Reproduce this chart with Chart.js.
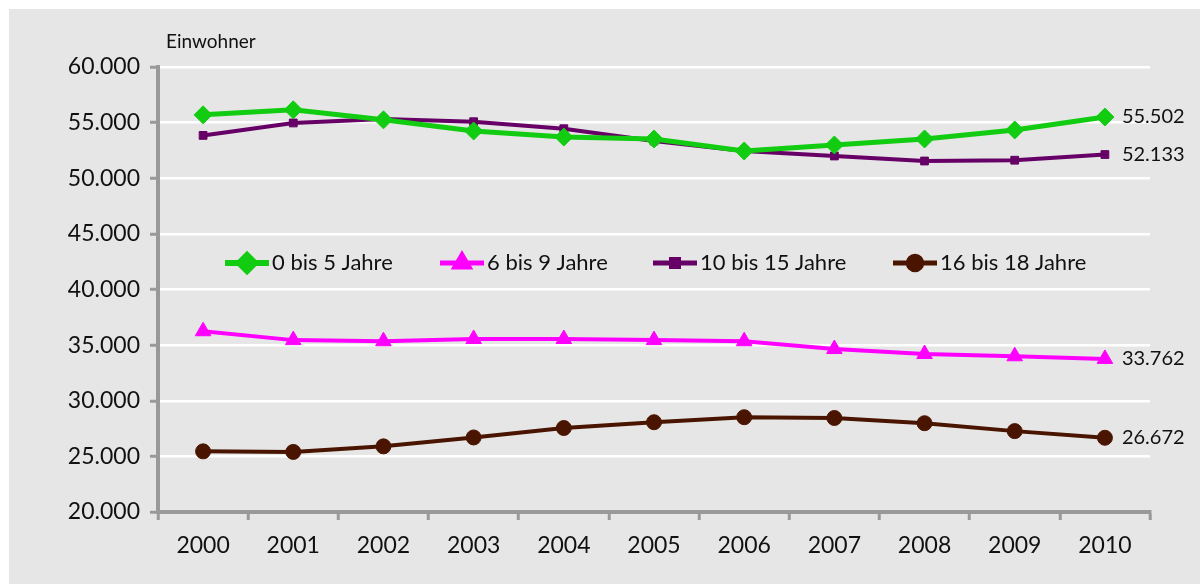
<!DOCTYPE html>
<html>
<head>
<meta charset="utf-8">
<script src="https://cdn.jsdelivr.net/npm/chart.js@4.4.0/dist/chart.umd.min.js"></script>
<style>
  body { margin: 0; background: #fff; }
  #frame { position: absolute; left: 9px; top: 9px; width: 1191px; height: 575px; background: #e6e6e6; }
  #frame canvas { position: absolute; left: 0; top: 0; }
</style>
</head>
<body>
<div id="frame"><canvas id="chart" width="1191" height="575"></canvas></div>
<script>
// Data
const years = ['2000', '2001', '2002', '2003', '2004', '2005', '2006', '2007', '2008', '2009', '2010'];
const age0to5 = [55700, 56150, 55250, 54250, 53700, 53530, 52450, 52990, 53530, 54340, 55502];
const age6to9 = [36250, 35450, 35350, 35550, 35550, 35450, 35350, 34650, 34200, 34000, 33762];
const age10to15 = [53850, 54970, 55330, 55080, 54450, 53350, 52450, 52000, 51550, 51620, 52133];
const age16to18 = [25450, 25400, 25900, 26700, 27550, 28070, 28520, 28450, 27980, 27270, 26672];
const seriesNames = ['0 bis 5 Jahre', '6 bis 9 Jahre', '10 bis 15 Jahre', '16 bis 18 Jahre'];
const yTicks = [20000, 25000, 30000, 35000, 40000, 45000, 50000, 55000, 60000];

const FONT = 'Lato, "Open Sans", sans-serif';

function fmt(v) {
    // German thousands separator
    const s = String(Math.round(v));
    return s.replace(/\B(?=(\d{3})+(?!\d))/g, '.');
}

const styles = [
    { color: '#11cc11', style: 'rectRot', radius: 9, width: 5 },
    { color: '#ff00ff', style: 'triangle', radius: 9, width: 4 },
    { color: '#660066', style: 'rect', radius: 5.5, width: 4 },
    { color: '#4a1500', style: 'circle', radius: 7.5, width: 4 }
];
const allData = [age0to5, age6to9, age10to15, age16to18];

// Legend drawn inside the plot area, plus end labels and axis title
const extras = {
    id: 'extras',
    afterDraw(chart) {
        const ctx = chart.ctx;
        ctx.save();
        // axis title
        ctx.fillStyle = '#111';
        ctx.font = '19px ' + FONT;
        ctx.textAlign = 'left';
        ctx.textBaseline = 'alphabetic';
        ctx.fillText('Einwohner', 157, 39);

        // end labels
        ctx.font = '20px ' + FONT;
        ctx.textBaseline = 'middle';
        chart.data.datasets.forEach((ds, i) => {
            const pts = chart.getDatasetMeta(i).data;
            const p = pts[pts.length - 1];
            ctx.fillText(fmt(ds.data[ds.data.length - 1]), p.x + 17, p.y);
        });

        // legend
        const legendX = [216, 431, 644, 884];
        const ly = 254;
        ctx.font = '22px ' + FONT;
        chart.data.datasets.forEach((ds, i) => {
            const st = styles[i];
            const x0 = legendX[i];
            ctx.strokeStyle = st.color;
            ctx.lineWidth = st.width + 1;
            ctx.beginPath();
            ctx.moveTo(x0, ly);
            ctx.lineTo(x0 + 44, ly);
            ctx.stroke();
            ctx.fillStyle = st.color;
            Chart.helpers.drawPoint(ctx, { pointStyle: st.style, radius: st.radius * 0.9, borderWidth: 1 }, x0 + 22, ly);
            ctx.fillStyle = '#111';
            ctx.fillText(seriesNames[i], x0 + 47, ly);
        });
        ctx.restore();
    }
};

new Chart(document.getElementById('chart'), {
    type: 'line',
    data: {
        labels: years,
        datasets: allData.map((d, i) => ({
            label: seriesNames[i],
            data: d,
            borderColor: styles[i].color,
            backgroundColor: styles[i].color,
            borderWidth: styles[i].width,
            pointStyle: styles[i].style,
            pointRadius: styles[i].radius,
            pointBorderWidth: 1,
            tension: 0
        }))
    },
    options: {
        responsive: false,
        animation: false,
        layout: { padding: { top: 58, right: 50, left: 0, bottom: 0 } },
        plugins: {
            legend: { display: false },
            tooltip: { enabled: false }
        },
        scales: {
            x: {
                offset: true,
                grid: {
                    offset: true,
                    drawOnChartArea: true,
                    color: (c) => c.index === years.length ? '#ffffff' : 'rgba(0,0,0,0)',
                    lineWidth: 2.5,
                    tickColor: '#999999',
                    tickWidth: 3,
                    tickLength: 8
                },
                border: { color: '#999999', width: 4 },
                ticks: { color: '#111', font: { family: FONT, size: 23 }, padding: 12 },
                afterFit: (s) => { s.height = 72; }
            },
            y: {
                min: 20000,
                max: 60000,
                afterBuildTicks: (s) => { s.ticks = yTicks.map(v => ({ value: v })); },
                grid: {
                    color: '#ffffff',
                    lineWidth: 2.5,
                    tickColor: '#999999',
                    tickWidth: 3,
                    tickLength: 8
                },
                border: { color: '#999999', width: 4 },
                ticks: { color: '#111', font: { family: FONT, size: 23 }, padding: 10, callback: (v) => fmt(v) },
                afterFit: (s) => { s.width = 149; }
            }
        }
    },
    plugins: [extras]
});
</script>
</body>
</html>
